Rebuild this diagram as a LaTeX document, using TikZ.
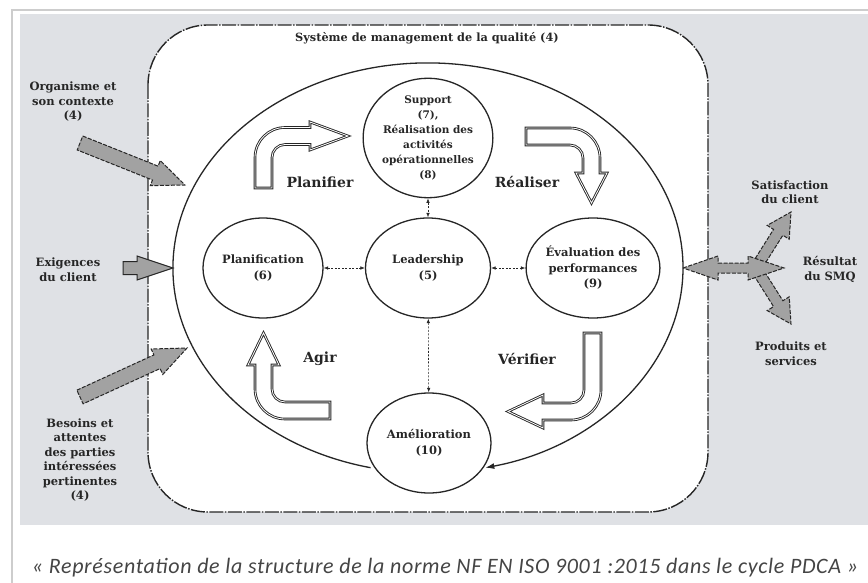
\documentclass[tikz,border=0pt]{standalone}
\usepackage{fontspec}
\setmainfont{DejaVu Serif}
\newfontfamily\captionfont[LetterSpace=3]{Carlito}
\usetikzlibrary{shapes.geometric,arrows.meta,calc}
\definecolor{panel}{HTML}{DFE1E5}
\definecolor{ink}{HTML}{262626}
\definecolor{arrowgray}{HTML}{A2A2A2}
\definecolor{framegray}{HTML}{CDCDCD}
\definecolor{captiongray}{HTML}{454545}

% straight block arrow: style, tail, tip, shaft half-width, head half-width, head length
\newcommand\blockarrow[6]{%
  \coordinate (ba-base) at ($(#3)!#6!(#2)$);
  \draw[#1] ($(#2)!#4!90:(#3)$) -- ($(ba-base)!#4!90:(#3)$) -- ($(ba-base)!#5!90:(#3)$)
    -- (#3) -- ($(ba-base)!#5!-90:(#3)$) -- ($(ba-base)!#4!-90:(#3)$) -- ($(#2)!#4!-90:(#3)$) -- cycle;
}

\begin{document}
\begin{tikzpicture}[x=1pt,y=-1pt,
  ell/.style={ellipse, draw=ink, line width=1.3pt, inner sep=0pt, align=center, text=ink,
    font=\fontsize{11.5}{15.5}\selectfont\bfseries},
  lbl/.style={align=center, text=ink, inner sep=0pt, font=\fontsize{11.5}{14.5}\selectfont\bfseries},
  phase/.style={text=ink, inner sep=0pt, font=\fontsize{14}{16}\selectfont\bfseries},
  link/.style={draw=ink, line width=0.6pt, dash pattern=on 2pt off 1.5pt,
    {Latex[length=4.5pt,width=3.5pt]}-{Latex[length=4.5pt,width=3.5pt]}},
  turn/.style={draw=ink, line width=0.9pt, double=white, double distance=0.8pt, fill=white},
  grayarrow/.style={fill=arrowgray, draw=ink, line width=1pt, dash pattern=on 4pt off 1.5pt},
  smq/.style={draw=ink, line width=1.4pt, dash pattern=on 14pt off 1.5pt on 1.5pt off 1.5pt}]
\useasboundingbox (0,0) rectangle (868,583);
\fill[white] (0,0) rectangle (868,583);
\draw[framegray, line width=1.2pt] (12,583) -- (12,10) -- (868,10);
\fill[panel] (20,14) rectangle (868,525);

% quality management system boundary
\draw[smq, fill=white, rounded corners=60pt] (148,25) rectangle (708,512);
\node[lbl, font=\fontsize{11.3}{13}\selectfont\bfseries] (title) at (427,38) {Système de management de la qualité (4)};

% process clauses
\node[ell, minimum width=125pt, minimum height=106pt, font=\fontsize{10.5}{15}\selectfont\bfseries] (sup) at (428,138)
  {Support\\(7),\\Réalisation des\\activités\\opérationnelles\\(8)};
\node[ell, minimum width=125pt, minimum height=100pt] (lead) at (428,268) {Leadership\\(5)};
\node[ell, minimum width=120pt, minimum height=100pt] (plan) at (263,268) {Planification\\(6)};
\node[ell, minimum width=124pt, minimum height=100pt] (eval) at (593,268) {Évaluation des\\performances\\(9)};
\node[ell, minimum width=124pt, minimum height=100pt] (amel) at (429,443) {Amélioration\\(10)};

% PDCA loop around the clauses
\coordinate (loop-start) at (370.6,467.7);
\draw[ink, line width=1.3pt, -{Latex[length=9pt,width=6pt]}]
  (loop-start) arc[start angle=103, end angle=437, x radius=255, y radius=205];

\draw[link] (plan) -- (lead);
\draw[link] (lead) -- (eval);
\draw[link] (sup) -- (lead);
\draw[link] (lead) -- (amel);

% turning arrows of the cycle
\draw[turn] (255,188) -- (255,157.5) arc[start angle=180, end angle=270, radius=30]
  -- (310,127.5) -- (310,122) -- (348,136) -- (310,150) -- (310,144.5) -- (285,144.5)
  arc[start angle=270, end angle=180, radius=13] -- (272,188) -- cycle;
\draw[turn] (526,128) -- (570,128) arc[start angle=270, end angle=360, radius=30]
  -- (600,173) -- (607,173) -- (591.5,203) -- (576,173) -- (583,173) -- (583,158)
  arc[start angle=0, end angle=-90, radius=13] -- (526,145) -- cycle;
\draw[turn] (584,333) -- (601,333) -- (601,390) arc[start angle=0, end angle=90, radius=30]
  -- (543,420) -- (543,428) -- (508,411.5) -- (543,395) -- (543,403) -- (571,403)
  arc[start angle=90, end angle=0, radius=13] -- cycle;
\draw[turn] (330,402) -- (330,419) -- (285,419) arc[start angle=90, end angle=180, radius=30]
  -- (255,365) -- (248,365) -- (263.5,333) -- (279,365) -- (272,365) -- (272,389)
  arc[start angle=180, end angle=90, radius=13] -- cycle;

\node[phase] (planifier) at (320,182) {Planifier};
\node[phase] (realiser) at (527,182) {Réaliser};
\node[phase] (agir) at (320,359) {Agir};
\node[phase] (verifier) at (527,359) {Vérifier};

% inputs
\node[lbl] (org) at (73,102) {Organisme et\\son contexte\\(4)};
\node[lbl] (exig) at (68,269.5) {Exigences\\du client};
\node[lbl] (besoins) at (80,460) {Besoins et\\attentes\\des parties\\intéressées\\pertinentes\\(4)};

\coordinate (org-tail) at (80,143);
\coordinate (org-tip) at (185,185);
\blockarrow{grayarrow}{org-tail}{org-tip}{7.5pt}{13.5pt}{32pt}
\coordinate (exig-tail) at (123,268);
\coordinate (exig-tip) at (173,268);
\blockarrow{fill=arrowgray, draw=ink, line width=1pt}{exig-tail}{exig-tip}{6.5pt}{12pt}{36pt}
\coordinate (bes-tail) at (80,397);
\coordinate (bes-tip) at (187,348);
\blockarrow{grayarrow}{bes-tail}{bes-tip}{7.5pt}{14pt}{33pt}

% outputs
\node[lbl] (satis) at (790,192) {Satisfaction\\du client};
\node[lbl] (resultat) at (830,269.5) {Résultat\\du SMQ};
\node[lbl] (produits) at (791,353.5) {Produits et\\services};

\coordinate (up-tail) at (757,266);
\coordinate (up-tip) at (791,212);
\blockarrow{grayarrow}{up-tail}{up-tip}{5.5pt}{13pt}{24pt}
\coordinate (down-tail) at (757,270);
\coordinate (down-tip) at (791,324);
\blockarrow{grayarrow}{down-tail}{down-tip}{5.5pt}{13pt}{24pt}
\coordinate (res-left) at (683,268);
\coordinate (res-right) at (784,268);
\draw[grayarrow] (res-left) -- (718,256) -- (718,263) -- (748,263) -- (748,256) -- (res-right)
  -- (748,280) -- (748,273) -- (718,273) -- (718,280) -- cycle;

\node[font=\captionfont\itshape\fontsize{22}{24}\selectfont, text=captiongray, inner sep=0pt] (caption) at (445,568)
  {« Représentation de la structure de la norme NF EN ISO 9001 :2015 dans le cycle PDCA »};
\end{tikzpicture}
\end{document}
